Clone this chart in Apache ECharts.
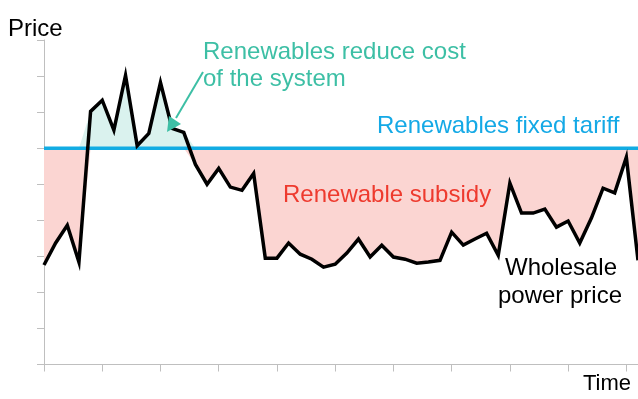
<!DOCTYPE html>
<html>
<head>
<meta charset="utf-8">
<script src="https://cdn.jsdelivr.net/npm/echarts@6/dist/echarts.min.js"></script>
<style>
html,body{margin:0;padding:0;background:#fff;}
#chart{width:638px;height:399px;}
</style>
</head>
<body>
<div id="chart"></div>
<script>
// ---- data ----
var periods = [];
for (var k = 1; k <= 52; k++) { periods.push('t' + k); }
var wholesalePrice = [
  2.76, 3.37, 3.86, 2.84, 7.02, 7.33, 6.50, 8.02, 6.07, 6.41,
  7.82, 6.55, 6.44, 5.55, 5.00, 5.44, 4.92, 4.83, 5.30, 2.95,
  2.95, 3.37, 3.06, 2.92, 2.70, 2.78, 3.09, 3.48, 2.98, 3.31,
  2.98, 2.92, 2.81, 2.84, 2.89, 3.67, 3.31, 3.48, 3.64, 3.03,
  5.03, 4.20, 4.20, 4.31, 3.81, 3.98, 3.37, 4.06, 4.89, 4.76,
  5.75, 2.89
];
var fixedTariff = 6;
var yMin = 0, yMax = 9, yStep = 1;
var xTickEvery = 5;

var tariffLine = wholesalePrice.map(function(){ return fixedTariff; });
var subsidyEdge = wholesalePrice.map(function(v){ return Math.min(v, fixedTariff); });
var savingEdge = wholesalePrice.map(function(v){ return Math.max(v, fixedTariff); });

var FONT = '"Liberation Sans", Arial, sans-serif';
var axisGrey = '#BFBFBF';

var chart = echarts.init(document.getElementById('chart'), null, {renderer:'canvas'});
chart.setOption({
  animation: false,
  grid: {left: 44, top: 40, right: 0, bottom: 34.5},
  xAxis: {
    type: 'category',
    data: periods,
    boundaryGap: false,
    axisLine: {show: true, lineStyle: {color: axisGrey, width: 1}},
    axisTick: {show: true, interval: xTickEvery - 1, length: 7, inside: false, lineStyle: {color: axisGrey}},
    axisLabel: {show: false},
    splitLine: {show: false}
  },
  yAxis: {
    type: 'value',
    min: yMin, max: yMax, interval: yStep,
    axisLine: {show: true, lineStyle: {color: axisGrey, width: 1}},
    axisTick: {show: true, length: 7, lineStyle: {color: axisGrey}},
    axisLabel: {show: false},
    splitLine: {show: false}
  },
  series: [
    {
      name: 'subsidy', type: 'line', data: subsidyEdge, symbol: 'none', z: 1,
      lineStyle: {width: 0, opacity: 0},
      areaStyle: {color: '#FBD5D2', opacity: 1, origin: fixedTariff},
      silent: true
    },
    {
      name: 'saving', type: 'line', data: savingEdge, symbol: 'none', z: 1,
      lineStyle: {width: 0, opacity: 0},
      areaStyle: {color: '#DAF2EE', opacity: 1, origin: fixedTariff},
      silent: true
    },
    {
      name: 'Renewables fixed tariff', type: 'line', data: tariffLine, symbol: 'none', z: 3,
      lineStyle: {color: '#12ACE3', width: 3.5}
    },
    {
      name: 'Wholesale power price', type: 'line', data: wholesalePrice, symbol: 'none', z: 4,
      lineStyle: {color: '#000000', width: 3.5, join: 'miter'}
    }
  ],
  graphic: [
    {type: 'text', left: 8, top: 17, style: {text: 'Price', font: '24px ' + FONT, fill: '#000', verticalAlign: 'middle'}, z: 10},
    {type: 'text', x: 583, y: 383.5, style: {text: 'Time', font: '22px ' + FONT, fill: '#000', verticalAlign: 'middle'}, z: 10},
    {type: 'text', x: 203, y: 52.5, style: {text: 'Renewables reduce cost', font: '24px ' + FONT, fill: '#3DBFA5', verticalAlign: 'middle'}, z: 10},
    {type: 'text', x: 203, y: 79.5, style: {text: 'of the system', font: '24px ' + FONT, fill: '#3DBFA5', verticalAlign: 'middle'}, z: 10},
    {type: 'text', x: 377, y: 126.5, style: {text: 'Renewables fixed tariff', font: '24px ' + FONT, fill: '#14A9E6', verticalAlign: 'middle'}, z: 10},
    {type: 'text', x: 283, y: 195, style: {text: 'Renewable subsidy', font: '24px ' + FONT, fill: '#EE3A2E', verticalAlign: 'middle'}, z: 10},
    {type: 'text', x: 561, y: 268.5, style: {text: 'Wholesale', font: '24px ' + FONT, fill: '#000', align: 'center', verticalAlign: 'middle'}, z: 10},
    {type: 'text', x: 560, y: 296.5, style: {text: 'power price', font: '24px ' + FONT, fill: '#000', align: 'center', verticalAlign: 'middle'}, z: 10},
    {type: 'line', shape: {x1: 203, y1: 72, x2: 176, y2: 118}, style: {stroke: '#3DBFA5', lineWidth: 2}, z: 10},
    {type: 'polygon', shape: {points: [[167, 132], [169, 116], [181, 124]]}, style: {fill: '#3DBFA5'}, z: 10}
  ]
});
</script>
</body>
</html>
